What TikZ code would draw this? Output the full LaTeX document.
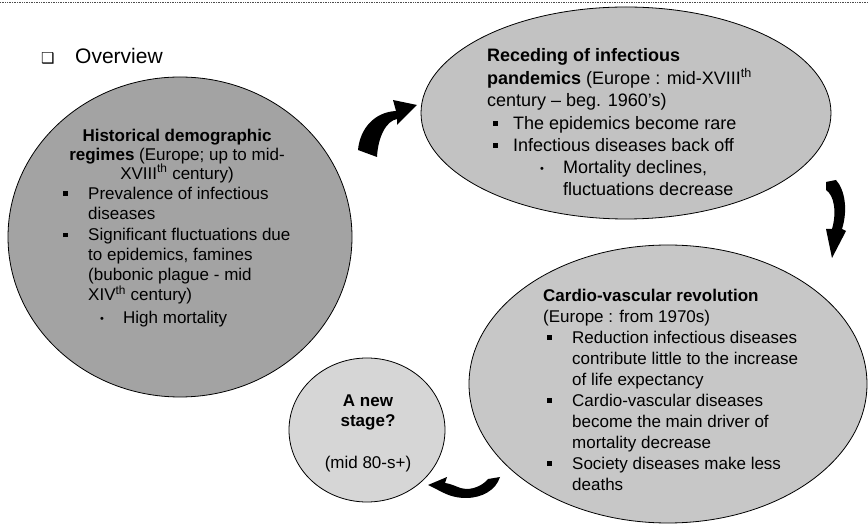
\documentclass[tikz,border=0pt]{standalone}
\usepackage{fontspec}
\setmainfont{Liberation Sans}
\newfontfamily\dejavu{DejaVu Sans}
\usetikzlibrary{shapes.geometric}
\newcommand{\sqbul}[1]{\makebox[#1][l]{\raisebox{3.5pt}{\rule{4.5pt}{4.5pt}}}}
\newcommand{\rdbul}[1]{\makebox[#1][l]{\raisebox{1pt}{\fontsize{11}{11}\selectfont\textbullet}}}
\begin{document}
\begin{tikzpicture}[x=1pt,y=-1pt,
  ell/.style={ellipse, draw=black, line width=0.8pt, inner sep=0pt},
  txt/.style={inner sep=0pt, align=left},
  blk/.style={fill=black, draw=none}]
\useasboundingbox (0,0) rectangle (868,526);
\fill[white] (0,0) rectangle (868,526);
\draw[densely dotted, line width=0.7pt, black!70] (0,2) -- (868,2);

% ellipses
\node[ell, fill=black!36, minimum width=344pt, minimum height=320pt] (hist) at (180,237) {};
\node[ell, fill=black!24, minimum width=410pt, minimum height=212pt] (rec) at (626,113) {};
\node[ell, fill=black!22, minimum width=398pt, minimum height=278pt] (card) at (668,384) {};
\node[ell, fill=black!16, minimum width=156pt, minimum height=144pt] (newst) at (367,430) {};

% overview
\node[inner sep=0pt, anchor=base west, font=\dejavu\fontsize{15}{15}\selectfont] (ovbox) at (41,64) {❑};
\node[inner sep=0pt, anchor=base west, font=\fontsize{21}{21}\selectfont] (ovtxt) at (75,64) {Overview};

% historical
\node[txt, align=center, anchor=north, font=\fontsize{17}{19}\selectfont] (histT) at (177,127.7)
  {\strut\textbf{Historical demographic}\\\textbf{regimes} (Europe; up to mid-\\XVIII\textsuperscript{th} century)};
\node[txt, anchor=north west, font=\fontsize{17}{20}\selectfont] (histB) at (63,185)
  {\strut\sqbul{25pt}Prevalence of infectious\\
   \hspace*{25pt}diseases\\[1.5pt]
   \sqbul{25pt}Significant fluctuations due\\
   \hspace*{25pt}to epidemics, famines\\
   \hspace*{25pt}(bubonic plague - mid\\
   \hspace*{25pt}XIV\textsuperscript{th} century)\\[2.5pt]
   \hspace*{37pt}\rdbul{23pt}High mortality};

% receding
\node[txt, anchor=north west, font=\fontsize{18}{22}\selectfont] (recT) at (487,45.6)
  {\strut\textbf{Receding of infectious}\\
   \textbf{pandemics} (Europe : mid-XVIII\textsuperscript{th}\\
   century -- beg. 1960's)\\[1pt]
   \hspace*{6pt}\sqbul{20pt}The epidemics become rare\\
   \hspace*{6pt}\sqbul{20pt}Infectious diseases back off\\
   \hspace*{53pt}\rdbul{23pt}Mortality declines,\\
   \hspace*{76pt}fluctuations decrease};

% cardio
\node[txt, anchor=north west, font=\fontsize{17}{21}\selectfont] (cardT) at (543,286.3)
  {\strut\textbf{Cardio-vascular revolution}\\
   (Europe : from 1970s)\\
   \hspace*{4pt}\sqbul{25pt}Reduction infectious diseases\\
   \hspace*{29pt}contribute little to the increase\\
   \hspace*{29pt}of life expectancy\\
   \hspace*{4pt}\sqbul{25pt}Cardio-vascular diseases\\
   \hspace*{29pt}become the main driver of\\
   \hspace*{29pt}mortality decrease\\
   \hspace*{4pt}\sqbul{25pt}Society diseases make less\\
   \hspace*{29pt}deaths};

% new stage
\node[txt, align=center, anchor=north, font=\fontsize{17}{20}\selectfont] (newT) at (368,392)
  {\strut\textbf{A new}\\\textbf{stage?}\\[22pt](mid 80-s+)};

% curved block arrows
\fill[blk] (358,150) .. controls (360,128) and (375,112) .. (396,111) -- (393,100) -- (417,105)
  -- (397,125) -- (397,119) .. controls (386,121) and (378,137) .. (377,157) -- cycle;
\fill[blk] (826,182) -- (836,180) .. controls (845,190) and (848,210) .. (842,229) -- (846,231)
  -- (832,258) -- (826,229) -- (832,229) .. controls (837,212) and (834,195) .. (826,190) -- cycle;
\fill[blk] (428,485) -- (447,477) -- (445,483) .. controls (453,484) and (460,489) .. (466,489)
  .. controls (476,489) and (484,484) .. (488,479) -- (500,477) .. controls (496,490) and (482,498) .. (466,498)
  .. controls (452,498) and (444,493) .. (438,490) -- cycle;
\end{tikzpicture}
\end{document}
